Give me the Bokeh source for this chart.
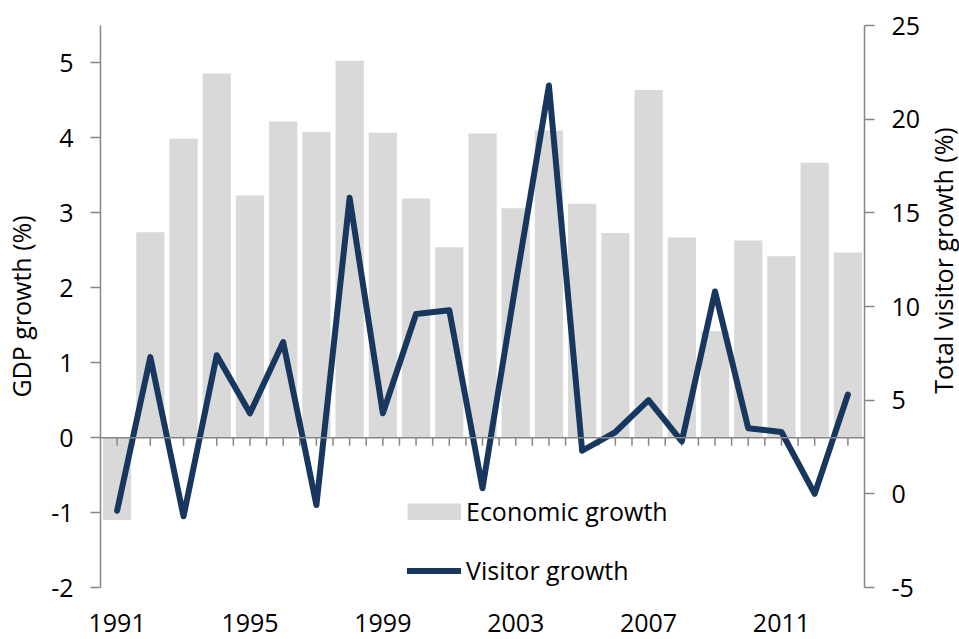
import math
from bokeh.plotting import figure
from bokeh.layouts import row
from bokeh.models import (LinearAxis, Range1d, FixedTicker, Legend, LegendItem,
                          Label, Span)
from bokeh.embed import file_html
from bokeh.resources import INLINE

# Annual series, 1991-2013
years = list(range(1991, 2014))
gdp_growth = [-1.1, 2.74, 3.99, 4.86, 3.23, 4.22, 4.08, 5.03, 4.07, 3.19, 2.54,
              4.06, 3.06, 4.10, 3.12, 2.73, 4.64, 2.67, 1.42, 2.63, 2.42, 3.67, 2.47]
visitor_growth = [-0.9, 7.3, -1.2, 7.4, 4.3, 8.1, -0.6, 15.8, 4.3, 9.6, 9.8,
                  0.3, 11.2, 21.8, 2.3, 3.3, 5.0, 2.8, 10.8, 3.5, 3.3, 0.0, 5.3]
year_labels = [1991, 1995, 1999, 2003, 2007, 2011]
left_ticks = [-2, -1, 0, 1, 2, 3, 4, 5]
right_ticks = [-5, 0, 5, 10, 15, 20, 25]

FONT = "Open Sans"
FS = "25px"
AXIS_GREY = "#868686"
BAR_GREY = "#D9D9D9"
NAVY = "#17375E"

p = figure(width=923, height=639, output_backend="svg", toolbar_location=None,
           x_range=Range1d(1990.5, 2013.5), y_range=Range1d(-2, 5.5),
           x_axis_location=None, y_axis_location=None,
           min_border_left=100, min_border_right=59,
           min_border_top=25, min_border_bottom=52)
p.outline_line_color = None
p.xgrid.visible = False
p.ygrid.visible = False
p.background_fill_color = "white"
p.border_fill_color = "white"
p.extra_y_ranges = {"visitors": Range1d(-5, 25)}

p.vbar(x=years, top=gdp_growth, bottom=0, width=0.85,
       fill_color=BAR_GREY, line_color=None)

# zero line with short tick marks every half year
p.add_layout(Span(location=0, dimension="width", line_color=AXIS_GREY, line_width=1.5))
half_years = [1991 + 0.5 * k for k in range(45)]
p.segment(x0=half_years, x1=half_years, y0=[0] * len(half_years),
          y1=[-0.107] * len(half_years), line_color=AXIS_GREY, line_width=1.5)

line = p.line(x=years, y=visitor_growth, y_range_name="visitors",
              line_color=NAVY, line_width=6, line_join="round", line_cap="round")

# left axis: GDP growth
yl = LinearAxis(ticker=FixedTicker(ticks=left_ticks), axis_label="GDP growth (%)",
                major_label_overrides={-2: "-2", -1: "-1"})
# right axis: visitor growth
yr = LinearAxis(y_range_name="visitors", ticker=FixedTicker(ticks=right_ticks),
                major_label_overrides={-5: "-5"})
for ax in (yl, yr):
    ax.axis_line_color = AXIS_GREY
    ax.axis_line_width = 1.5
    ax.major_tick_line_color = AXIS_GREY
    ax.major_tick_line_width = 1.5
    ax.major_tick_out = 10
    ax.major_tick_in = 0
    ax.minor_tick_line_color = None
    ax.major_label_text_font = FONT
    ax.major_label_text_font_size = FS
    ax.major_label_text_color = "black"
    ax.major_label_standoff = 17
yl.axis_label_text_font = FONT
yl.axis_label_text_font_size = FS
yl.axis_label_text_font_style = "normal"
yl.axis_label_text_color = "black"
yl.axis_label_standoff = 10
p.add_layout(yl, "left")
p.add_layout(yr, "right")

# year labels along the bottom
xb = LinearAxis(ticker=FixedTicker(ticks=year_labels))
xb.axis_line_color = None
xb.major_tick_line_color = None
xb.minor_tick_line_color = None
xb.major_label_text_font = FONT
xb.major_label_text_font_size = FS
xb.major_label_text_color = "black"
xb.major_label_standoff = 20
p.add_layout(xb, "below")

# legend swatch for the bars: a thick grey stroke (single point, draws nothing in the plot)
swatch = p.line(x=[years[0]], y=[0], line_color=BAR_GREY, line_width=17, line_cap="butt")

legend = Legend(items=[LegendItem(label="Economic growth", renderers=[swatch]),
                       LegendItem(label="Visitor growth", renderers=[line])],
                location=(307, 0), orientation="vertical",
                glyph_width=54, glyph_height=17, label_standoff=5,
                spacing=25, padding=0, margin=0,
                label_text_font=FONT, label_text_font_size=FS,
                label_text_color="black",
                border_line_color=None, background_fill_alpha=0)
p.add_layout(legend)

# narrow strip on the right carrying the secondary axis title
# (its frame lines up with the main frame, so y is measured from the frame bottom)
strip = figure(width=36, height=639, output_backend="svg", toolbar_location=None,
               x_axis_location=None, y_axis_location=None,
               min_border=0, min_border_left=0, min_border_right=0,
               min_border_top=0, min_border_bottom=0)
strip.outline_line_color = None
strip.xgrid.visible = False
strip.ygrid.visible = False
strip.background_fill_color = "white"
strip.border_fill_color = "white"
strip.add_layout(Label(x=19, y=327, x_units="screen", y_units="screen",
                       text="Total visitor growth (%)", angle=math.pi / 2,
                       text_align="center", text_baseline="middle",
                       text_font=FONT, text_font_size=FS, text_color="black"))

layout = row(p, strip, spacing=0)
open("out.html", "w").write(file_html(layout, INLINE))
